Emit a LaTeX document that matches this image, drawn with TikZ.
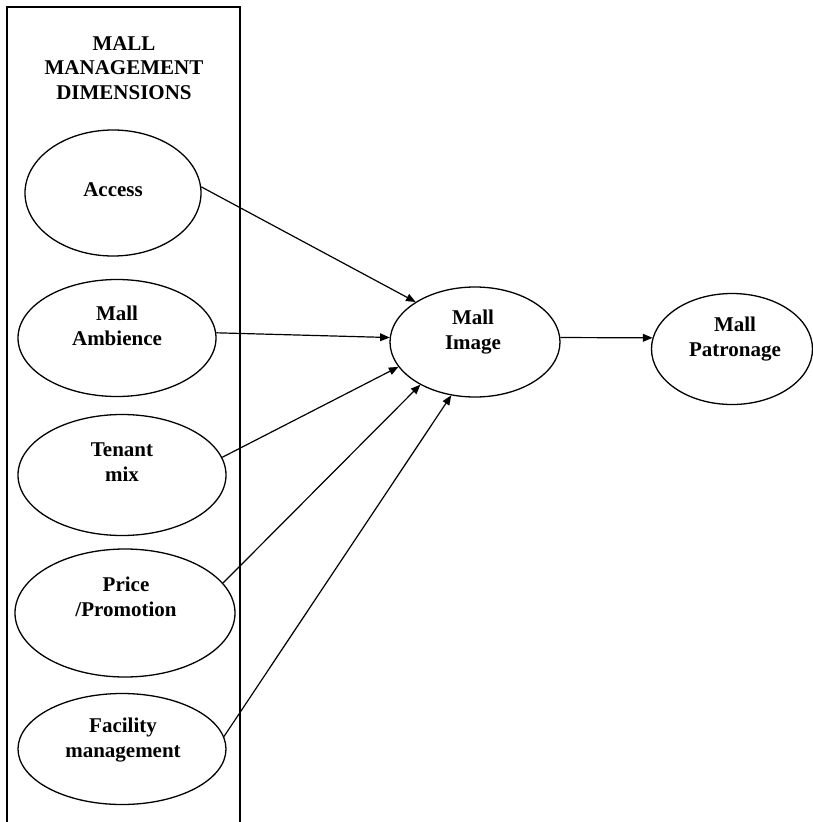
\documentclass[tikz,border=0pt]{standalone}
\usepackage{fontspec}
\setmainfont{Liberation Serif}
\usepackage{tikz}
\usetikzlibrary{arrows,shapes}
\usetikzlibrary{positioning}
\tikzset{
    dimension/.style={draw=black, ellipse, inner sep=0pt, line width=1.3pt},
    caption/.style={align=center, font=\fontsize{21}{24.5}\selectfont\bfseries},
    link/.style={draw=black, line width=1.2pt, ->, >=triangle 45},
}
\begin{document}
\begin{tikzpicture}[x=1pt, y=-1pt]
	\useasboundingbox (0,0) rectangle (813,822);
	% frame round the dimensions
	\draw[line width=1.3pt] (7,830) -- (7,7) -- (240,7) -- (240,830);
	\node[caption] (title) at (124,68) {MALL\\MANAGEMENT\\DIMENSIONS};
	\node[dimension, minimum width=176pt, minimum height=126pt] (access) at (113,193) {};
	\node[dimension, minimum width=198pt, minimum height=117pt] (ambience) at (117,338) {};
	\node[dimension, minimum width=208pt, minimum height=121pt] (tenant) at (122,475) {};
	\node[dimension, minimum width=220pt, minimum height=128pt] (price) at (125,613) {};
	\node[dimension, minimum width=208pt, minimum height=111pt] (facility) at (122,749) {};
	\node[dimension, minimum width=170pt, minimum height=110pt] (image) at (475,342) {};
	\node[dimension, minimum width=161pt, minimum height=111pt] (patronage) at (732,349) {};
	\node[caption] (accesstext) at (113,190) {Access};
	\node[caption] (ambiencetext) at (117,326) {Mall\\Ambience};
	\node[caption] (tenanttext) at (122,462) {Tenant\\mix};
	\node[caption] (pricetext) at (126,597) {Price\\/Promotion};
	\node[caption] (facilitytext) at (123,740) {Facility\\management};
	\node[caption] (imagetext) at (473,332) {Mall\\Image};
	\node[caption] (patronagetext) at (735,339) {Mall\\Patronage};
	\draw[link] (access.4) -- (image.146);
	\draw[link] (ambience.3) -- (image.177);
	\draw[link] (tenant.10) -- (image.198);
	\draw[link] (price.17) -- (image.218);
	\draw[link] (facility.7) -- (image.246);
	\draw[link] (image.3) -- (patronage.172);
\end{tikzpicture}
\end{document}
